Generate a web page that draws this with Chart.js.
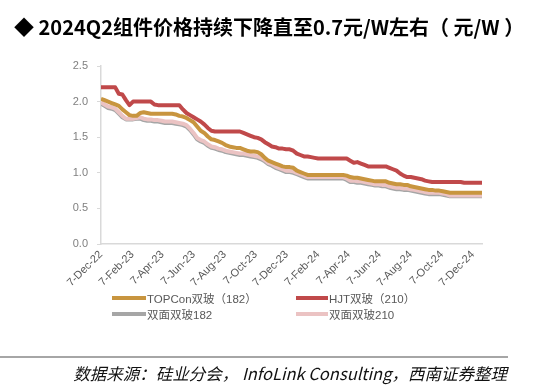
<!DOCTYPE html>
<html><head><meta charset="utf-8">
<script src="https://cdn.jsdelivr.net/npm/chart.js@4.4.1/dist/chart.umd.min.js"></script>
<style>
html,body{margin:0;padding:0;background:#fff;}
#wrap{position:relative;width:545px;height:392px;overflow:hidden;background:#fff;}
#c{position:absolute;left:0;top:0;}
#title{position:absolute;left:14px;top:12px;font:bold 20px "Noto Sans CJK SC";color:#000;white-space:nowrap;line-height:30px;}
.li{position:absolute;display:flex;align-items:center;height:16px;font:11.5px "Liberation Sans","Noto Sans CJK SC";color:#595959;white-space:nowrap;}
.sw{display:inline-block;height:4px;margin-right:1px;}
#rule{position:absolute;left:0;top:356px;width:508px;height:2px;background:#A6A6A6;}
#src{position:absolute;right:38px;top:361px;font:italic 16.5px "Noto Sans CJK SC";color:#111;white-space:nowrap;line-height:24px;}
</style></head>
<body>
<div id="wrap">
<canvas id="c" width="545" height="392"></canvas>
<div id="title">◆ 2024Q2组件价格持续下降直至0.7元/W左右（ 元/W ）</div>
<div id="legend"></div>
<div id="rule"></div>
<div id="src">数据来源：硅业分会， InfoLink Consulting，西南证券整理</div>
</div>
<script>
// ---- data ----
const startDate = '2022-12-07';           // first weekly observation
const seriesNames = ['TOPCon双玻（182）', 'HJT双玻（210）', '双面双玻182', '双面双玻210'];
const tickDates  = ['2022-12-07','2023-02-07','2023-04-07','2023-06-07','2023-08-07','2023-10-07','2023-12-07','2024-02-07','2024-04-07','2024-06-07','2024-08-07','2024-10-07','2024-12-07'];
const tickLabels = ['7-Dec-22','7-Feb-23','7-Apr-23','7-Jun-23','7-Aug-23','7-Oct-23','7-Dec-23','7-Feb-24','7-Apr-24','7-Jun-24','7-Aug-24','7-Oct-24','7-Dec-24'];

const topconPrices = [2.04,2.02,2.00,1.98,1.96,1.94,1.89,1.85,1.81,1.80, 1.80,1.84,1.85,1.84,1.83,1.83,1.83,1.83,1.83,1.83,
 1.83,1.82,1.80,1.79,1.77,1.74,1.71,1.65,1.59,1.56, 1.51,1.47,1.46,1.44,1.42,1.39,1.37,1.36,1.35,1.35,
 1.33,1.31,1.30,1.30,1.29,1.26,1.21,1.17,1.15,1.13, 1.11,1.09,1.08,1.08,1.07,1.03,1.01,0.99,0.97,0.97,
 0.97,0.97,0.97,0.97,0.97,0.97,0.97,0.97,0.97,0.96, 0.94,0.93,0.93,0.92,0.91,0.90,0.89,0.88,0.88,0.88,
 0.88,0.86,0.85,0.84,0.84,0.83,0.83,0.81,0.80,0.79, 0.78,0.77,0.76,0.76,0.75,0.75,0.74,0.73,0.72,0.72,
 0.72,0.72,0.72,0.72,0.72,0.72,0.72,0.72];
const hjtPrices = [2.20,2.20,2.20,2.20,2.20,2.11,2.10,2.02,1.95,2.00, 2.00,2.00,2.00,2.00,2.00,1.96,1.95,1.95,1.95,1.95,
 1.95,1.95,1.95,1.89,1.84,1.81,1.78,1.75,1.72,1.68, 1.63,1.59,1.58,1.58,1.58,1.58,1.58,1.58,1.58,1.58,
 1.56,1.54,1.52,1.50,1.49,1.47,1.43,1.40,1.37,1.36, 1.34,1.34,1.33,1.33,1.31,1.27,1.25,1.23,1.23,1.22,
 1.21,1.20,1.20,1.20,1.20,1.20,1.20,1.20,1.20,1.20, 1.17,1.14,1.15,1.13,1.11,1.09,1.09,1.09,1.09,1.09,
 1.09,1.07,1.05,1.03,0.99,0.96,0.94,0.94,0.93,0.92, 0.91,0.89,0.88,0.87,0.87,0.87,0.87,0.87,0.87,0.87,
 0.87,0.87,0.86,0.86,0.86,0.86,0.86,0.86];
const bifacial182Prices = [1.97,1.94,1.91,1.90,1.88,1.83,1.78,1.75,1.75,1.75, 1.76,1.76,1.74,1.73,1.73,1.72,1.72,1.71,1.70,1.70,
 1.70,1.69,1.68,1.67,1.65,1.60,1.54,1.47,1.44,1.42, 1.38,1.35,1.34,1.32,1.31,1.29,1.28,1.27,1.26,1.25,
 1.25,1.24,1.23,1.22,1.21,1.19,1.16,1.12,1.10,1.07, 1.05,1.03,1.01,1.01,1.00,0.98,0.96,0.94,0.92,0.92,
 0.92,0.92,0.92,0.92,0.92,0.92,0.92,0.92,0.92,0.90, 0.87,0.87,0.86,0.86,0.85,0.84,0.83,0.82,0.82,0.81,
 0.81,0.79,0.78,0.77,0.77,0.76,0.76,0.75,0.74,0.73, 0.72,0.71,0.70,0.70,0.70,0.70,0.69,0.68,0.67,0.67,
 0.67,0.67,0.67,0.67,0.67,0.67,0.67,0.67];
const bifacial210Prices = [1.99,1.96,1.93,1.92,1.90,1.85,1.80,1.76,1.76,1.76, 1.77,1.78,1.76,1.75,1.75,1.74,1.74,1.73,1.72,1.72,
 1.72,1.71,1.70,1.69,1.67,1.62,1.56,1.49,1.46,1.44, 1.40,1.37,1.36,1.34,1.33,1.31,1.30,1.29,1.28,1.27,
 1.27,1.26,1.25,1.24,1.23,1.21,1.18,1.14,1.12,1.09, 1.07,1.05,1.03,1.03,1.02,1.00,0.98,0.96,0.94,0.94,
 0.94,0.94,0.94,0.94,0.94,0.94,0.94,0.94,0.94,0.92, 0.89,0.89,0.88,0.88,0.87,0.86,0.85,0.84,0.84,0.83,
 0.83,0.81,0.80,0.79,0.79,0.78,0.78,0.77,0.76,0.75, 0.74,0.73,0.72,0.72,0.72,0.72,0.71,0.70,0.68,0.68,
 0.68,0.68,0.68,0.68,0.68,0.68,0.68,0.68];

// ---- build ----
const DAY = 86400000;
const t0 = Date.parse(startDate);
const weekDays = topconPrices.map((_, i) => i * 7);           // days since start, weekly
const tickDays = tickDates.map(d => Math.round((Date.parse(d) - t0) / DAY));
const toXY = arr => arr.map((v, i) => ({x: weekDays[i], y: v}));

const colors = ['#C8953F', '#C0494A', '#A6A6A6', '#EBC3C3'];
const seriesData = [topconPrices, hjtPrices, bifacial182Prices, bifacial210Prices];
const drawOrder = [1, 0, 3, 2];

const chart = new Chart(document.getElementById('c'), {
  type: 'line',
  data: {
    datasets: seriesData.map((arr, i) => ({
      label: seriesNames[i], data: toXY(arr), borderColor: colors[i], backgroundColor: colors[i],
      borderWidth: 4, pointRadius: 0, tension: 0, fill: false, order: drawOrder[i],
      borderJoinStyle: 'round'
    }))
  },
  options: {
    responsive: false, animation: false, devicePixelRatio: 1,
    layout: {padding: {left: 0, right: 63, top: 66, bottom: 88}},
    plugins: {legend: {display: false}, tooltip: {enabled: false}, title: {display: false}},
    scales: {
      x: {
        type: 'linear', min: 0, max: weekDays[weekDays.length - 1],
        grid: {display: false, drawTicks: false},
        border: {display: true, color: '#D9D9D9', width: 1.5},
        afterBuildTicks: s => { s.ticks = tickDays.map(v => ({value: v})); },
        afterFit: s => { s.height = 60; },
        ticks: {
          autoSkip: false, minRotation: 45, maxRotation: 45, padding: 4,
          color: '#595959', font: {family: 'Liberation Sans', size: 11},
          callback: (v, i) => tickLabels[i]
        }
      },
      y: {
        min: 0, max: 2.5,
        grid: {display: true, drawOnChartArea: false, drawTicks: true, tickLength: 4, color: '#D9D9D9'},
        border: {display: true, color: '#D9D9D9', width: 1.5},
        afterFit: s => { s.width = 101; },
        ticks: {stepSize: 0.5, padding: 9, color: '#7F7F7F', font: {family: 'Liberation Sans', size: 11},
          callback: v => v.toFixed(1)}
      }
    }
  }
});

// ---- legend (HTML, from the chart datasets) ----
const legendSlots = [{l: 112, t: 290, w: 34}, {l: 296, t: 290, w: 32}, {l: 112, t: 306, w: 34}, {l: 296, t: 306, w: 32}];
const lg = document.getElementById('legend');
chart.data.datasets.forEach((ds, i) => {
  const s = legendSlots[i];
  const el = document.createElement('div');
  el.className = 'li';
  el.style.left = s.l + 'px'; el.style.top = s.t + 'px';
  const sw = document.createElement('span');
  sw.className = 'sw'; sw.style.width = s.w + 'px'; sw.style.background = ds.borderColor;
  const tx = document.createElement('span');
  tx.textContent = ds.label;
  el.appendChild(sw); el.appendChild(tx);
  lg.appendChild(el);
});
</script>
</body></html>
